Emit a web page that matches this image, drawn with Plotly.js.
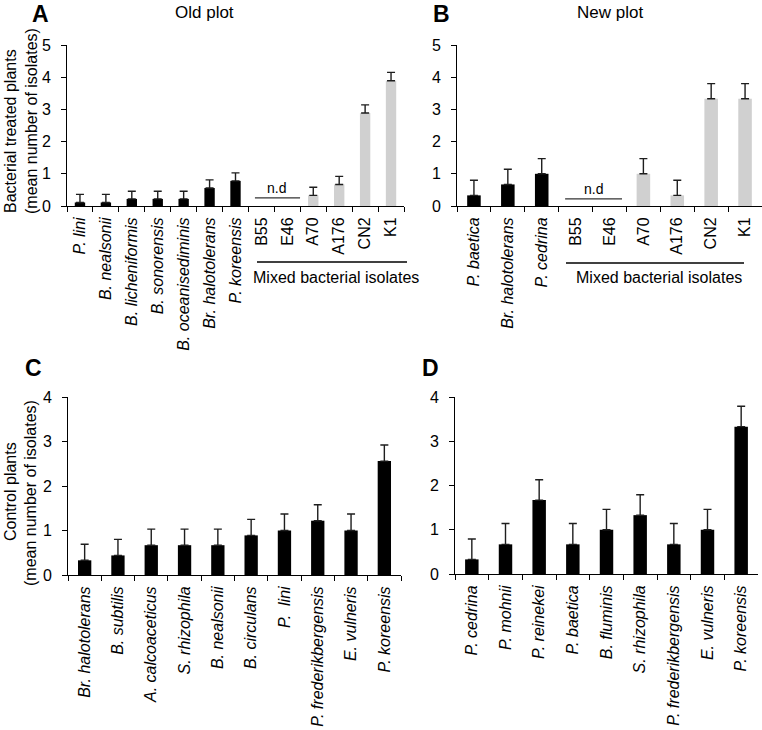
<!DOCTYPE html>
<html>
<head>
<meta charset="utf-8">
<script src="https://cdn.plot.ly/plotly-3.0.1.min.js"></script>
<style>html,body{margin:0;padding:0;background:#fff;}#chart{width:762px;height:730px;}</style>
</head>
<body>
<div id="chart"></div>
<script>
// ---------- Data ----------
// Panel A (Old plot) – bacterial treated plants
const aSpecies = ['P. lini','B. nealsonii','B. licheniformis','B. sonorensis','B. oceanisediminis','Br. halotolerans','P. koreensis'];
const aSpeciesMean = [0.11, 0.11, 0.22, 0.22, 0.22, 0.56, 0.78];
const aSpeciesErr  = [0.25, 0.25, 0.24, 0.24, 0.24, 0.25, 0.25];
const aMixed = ['B55','E46','A70','A176','CN2','K1'];
const aMixedMean = [null, null, 0.33, 0.67, 2.89, 3.89];
const aMixedErr  = [null, null, 0.25, 0.25, 0.25, 0.26];

// Panel B (New plot) – bacterial treated plants
const bSpecies = ['P. baetica','Br. halotolerans','P. cedrina'];
const bSpeciesMean = [0.33, 0.67, 1.0];
const bSpeciesErr  = [0.47, 0.47, 0.47];
const bMixed = ['B55','E46','A70','A176','CN2','K1'];
const bMixedMean = [null, null, 1.0, 0.33, 3.33, 3.33];
const bMixedErr  = [null, null, 0.47, 0.47, 0.47, 0.47];

// Panel C – control plants (old)
const cSpecies = ['Br. halotolerans','B. subtilis','A. calcoaceticus','S. rhizophila','B. nealsonii','B. circulans','P.  lini','P. frederikbergensis','E. vulneris','P. koreensis'];
const cMean = [0.33, 0.44, 0.67, 0.67, 0.67, 0.89, 1.0, 1.22, 1.0, 2.56];
const cErr  = [0.36, 0.36, 0.36, 0.36, 0.36, 0.36, 0.37, 0.36, 0.37, 0.36];

// Panel D – control plants (new)
const dSpecies = ['P. cedrina','P. mohnii','P. reinekei','P. baetica','B. fluminis','S. rhizophila','P. frederikbergensis','E. vulneris','P. koreensis'];
const dMean = [0.33, 0.67, 1.67, 0.67, 1.0, 1.33, 0.67, 1.0, 3.33];
const dErr  = [0.46, 0.47, 0.46, 0.47, 0.46, 0.46, 0.47, 0.46, 0.46];

// Text
const yTitleTreated = ['Bacterial treated plants', '(mean number of isolates)'];
const yTitleControl = ['Control plants', '(mean number of isolates)'];
const mixedLabel = 'Mixed bacterial isolates';
const ndLabel = 'n.d';

// ---------- Styling ----------
const FONT = '"Liberation Sans", Arial, sans-serif';
const BLACK = '#000000';
const GREY = '#d0d0d0';
const ERRC = '#1e1e1e';
const W = 762, H = 730;
const px = v => v / W;          // pixel -> paper x
const py = v => 1 - v / H;      // pixel -> paper y

function barTrace(cats, vals, errs, color, xa, ya) {
  return {
    type: 'bar', x: cats, y: vals, xaxis: xa, yaxis: ya,
    marker: {color: color, line: {width: 0}},
    error_y: {type: 'data', symmetric: false, array: errs,
              arrayminus: errs.map(() => 0), color: ERRC, thickness: 1.4, width: 4},
    hoverinfo: 'x+y', showlegend: false
  };
}
const ital = s => '<i>' + s + '</i>';

const data = [
  barTrace(aSpecies, aSpeciesMean, aSpeciesErr, BLACK, 'x', 'y'),
  barTrace(aMixed, aMixedMean, aMixedErr, GREY, 'x', 'y'),
  barTrace(bSpecies, bSpeciesMean, bSpeciesErr, BLACK, 'x2', 'y2'),
  barTrace(bMixed, bMixedMean, bMixedErr, GREY, 'x2', 'y2'),
  barTrace(cSpecies, cMean, cErr, BLACK, 'x3', 'y3'),
  barTrace(dSpecies, dMean, dErr, BLACK, 'x4', 'y4')
];

function xAxis(domain, anchor, cats, ticktext) {
  return {
    domain: domain, anchor: anchor, type: 'category',
    categoryorder: 'array', categoryarray: cats,
    tickvals: cats, ticktext: ticktext,
    range: [-0.5, cats.length - 0.5],
    showline: true, linecolor: BLACK, linewidth: 1,
    ticks: 'outside', tickson: 'boundaries', ticklen: 5, tickcolor: BLACK, tickwidth: 1,
    ticklabelstandoff: 4,
    tickangle: -90, tickfont: {family: FONT, size: 16, color: BLACK},
    showgrid: false, zeroline: false, automargin: false, fixedrange: true
  };
}
function yAxis(domain, anchor, max) {
  return {
    domain: domain, anchor: anchor, range: [0, max], dtick: 1, tick0: 0,
    showline: true, linecolor: BLACK, linewidth: 1,
    ticks: 'outside', ticklen: 5, tickcolor: BLACK, tickwidth: 1,
    ticklabelstandoff: 7,
    tickfont: {family: FONT, size: 16, color: BLACK},
    showgrid: false, zeroline: false, automargin: false, fixedrange: true
  };
}

const aCats = aSpecies.concat(aMixed);
const aText = aSpecies.map(ital).concat(aMixed);
const bCats = bSpecies.concat(bMixed);
const bText = bSpecies.map(ital).concat(bMixed);

function ann(text, x, y, opts) {
  return Object.assign({text: text, x: x, y: y, xref: 'paper', yref: 'paper',
    showarrow: false, xanchor: 'center', yanchor: 'middle',
    font: {family: FONT, size: 16, color: BLACK}}, opts || {});
}

const annotations = [
  ann('<b>A</b>', px(40), py(14), {font: {family: FONT, size: 23, color: BLACK}}),
  ann('<b>B</b>', px(441), py(14), {font: {family: FONT, size: 23, color: BLACK}}),
  ann('<b>C</b>', px(33), py(368), {font: {family: FONT, size: 23, color: BLACK}}),
  ann('<b>D</b>', px(431), py(368), {font: {family: FONT, size: 23, color: BLACK}}),
  ann('Old plot', px(204), py(12), {font: {family: FONT, size: 17, color: BLACK}}),
  ann('New plot', px(610), py(12), {font: {family: FONT, size: 17, color: BLACK}}),
  ann(yTitleTreated[0], px(10), py(131), {textangle: -90}),
  ann(yTitleTreated[1], px(31), py(121), {textangle: -90}),
  ann(yTitleControl[0], px(10), py(492), {textangle: -90}),
  ann(yTitleControl[1], px(31), py(493), {textangle: -90}),
  ann(mixedLabel, px(336), py(277)),
  ann(mixedLabel, px(659), py(277)),
  // n.d labels tied to the data axes
  {text: ndLabel, x: 7.6, y: 0.25, xref: 'x', yref: 'y', showarrow: false,
   xanchor: 'center', yanchor: 'bottom', font: {family: FONT, size: 14, color: BLACK}},
  {text: ndLabel, x: 3.53, y: 0.22, xref: 'x2', yref: 'y2', showarrow: false,
   xanchor: 'center', yanchor: 'bottom', font: {family: FONT, size: 14, color: BLACK}}
];

const shapes = [
  // n.d lines
  {type: 'line', xref: 'x', yref: 'y', x0: 6.75, x1: 8.49, y0: 0.25, y1: 0.25, line: {color: '#333', width: 1.3}},
  {type: 'line', xref: 'x2', yref: 'y2', x0: 2.69, x1: 4.37, y0: 0.22, y1: 0.22, line: {color: '#333', width: 1.3}},
  // Mixed isolates brackets
  {type: 'line', xref: 'paper', yref: 'paper', x0: px(257), x1: px(407), y0: py(262), y1: py(262), line: {color: BLACK, width: 1.3}},
  {type: 'line', xref: 'paper', yref: 'paper', x0: px(566), x1: px(744), y0: py(263), y1: py(263), line: {color: BLACK, width: 1.3}}
];

const layout = {
  width: W, height: H, autosize: false,
  margin: {l: 0, r: 0, t: 0, b: 0, pad: 0},
  paper_bgcolor: '#ffffff', plot_bgcolor: '#ffffff',
  font: {family: FONT, size: 16, color: BLACK},
  barmode: 'overlay', bargap: 0.6,
  showlegend: false,
  xaxis: xAxis([px(67), px(404)], 'y', aCats, aText),
  yaxis: yAxis([py(206), py(45)], 'x', 5),
  xaxis2: xAxis([px(457), 1.0], 'y2', bCats, bText),
  yaxis2: yAxis([py(206), py(45)], 'x2', 5),
  xaxis3: xAxis([px(68), px(401)], 'y3', cSpecies, cSpecies.map(ital)),
  yaxis3: yAxis([py(575), py(397)], 'x3', 4),
  xaxis4: xAxis([px(455), px(758)], 'y4', dSpecies, dSpecies.map(ital)),
  yaxis4: yAxis([py(574), py(397)], 'x4', 4),
  annotations: annotations,
  shapes: shapes
};

Plotly.newPlot('chart', data, layout, {displayModeBar: false, staticPlot: true});
</script>
</body>
</html>
